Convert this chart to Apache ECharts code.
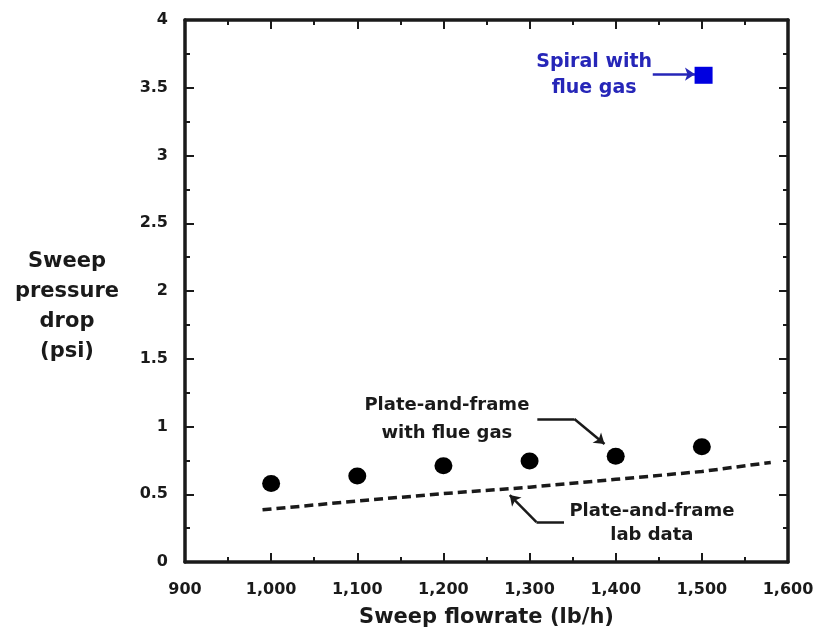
<!DOCTYPE html>
<html>
<head>
<meta charset="utf-8">
<script src="https://cdn.jsdelivr.net/npm/echarts@6/dist/echarts.min.js"></script>
<style>
  html, body { margin: 0; padding: 0; background: #fff; }
  #chart { width: 817px; height: 640px; }
</style>
</head>
<body>
<div id="chart"></div>
<script>
// 数据
var flueGasFlow = [1000, 1100, 1200, 1300, 1400, 1500];
var flueGasDrop = [0.58, 0.635, 0.71, 0.745, 0.78, 0.85];
var spiralFlow = [1502];
var spiralDrop = [3.592];
var labFlow = [990, 1100, 1200, 1300, 1400, 1500, 1580];
var labDrop = [0.385, 0.45, 0.505, 0.552, 0.61, 0.668, 0.735];
var yTicks = ['0', '0.5', '1', '1.5', '2', '2.5', '3', '3.5', '4'];

// 注释（数据坐标）
var notes = [
  { text: 'Plate-and-frame\nwith flue gas', at: [1204, 1.055], color: '#1a1a1a', size: 18, lh: 28 },
  { text: 'Plate-and-frame\nlab data', at: [1442, 0.284], color: '#1a1a1a', size: 18, lh: 24 },
  { text: 'Spiral with\nflue gas', at: [1375, 3.594], color: '#2626b8', size: 19, lh: 26 }
];
// 折线段（无箭头）
var plainSegs = [
  { coords: [[1309, 1.055], [1352, 1.055]], color: '#1a1a1a' },
  { coords: [[1340, 0.295], [1308, 0.295]], color: '#1a1a1a' }
];
// 带箭头的线段
var arrowSegs = [
  { coords: [[1352, 1.055], [1387, 0.871]], color: '#1a1a1a' },
  { coords: [[1308, 0.295], [1277, 0.494]], color: '#1a1a1a' },
  { coords: [[1443, 3.6], [1492, 3.6]], color: '#2626b8' }
];

function pairs(xs, ys) {
  return xs.map(function (x, i) { return [x, ys[i]]; });
}

var FONT = '"DejaVu Sans", "Liberation Sans", Arial, sans-serif';
var INK = '#1a1a1a';

function axis(extra) {
  var base = {
    axisLine: { show: true, onZero: false, lineStyle: { color: INK, width: 3.5 } },
    axisTick: { show: true, inside: true, length: 9, lineStyle: { color: INK, width: 2 } },
    minorTick: { show: true, splitNumber: 2, length: 5, lineStyle: { color: INK, width: 2 } },
    splitLine: { show: false }
  };
  return Object.assign(base, extra);
}

var chart = echarts.init(document.getElementById('chart'));
chart.setOption({
  animation: false,
  backgroundColor: '#fff',
  grid: { left: 185, right: 29, top: 20, bottom: 78 },
  xAxis: [
    axis({
      type: 'value', min: 900, max: 1600, interval: 100, position: 'bottom',
      name: 'Sweep flowrate (lb/h)', nameLocation: 'middle', nameGap: 45,
      nameTextStyle: { fontFamily: FONT, fontWeight: 'bold', fontSize: 21, color: INK },
      axisLabel: {
        margin: 20, fontFamily: FONT, fontWeight: 'bold', fontSize: 16, color: INK,
        formatter: function (v) { return v.toLocaleString('en-US'); }
      }
    }),
    axis({
      type: 'value', min: 900, max: 1600, interval: 100, position: 'top',
      axisLabel: { show: false }
    })
  ],
  yAxis: [
    axis({
      type: 'value', min: 0, max: 4, interval: 0.5, position: 'left',
      axisLabel: {
        margin: 17, fontFamily: FONT, fontWeight: 'bold', fontSize: 16, color: INK,
        formatter: function (v) { return yTicks[Math.round(v * 2)]; }
      }
    }),
    axis({
      type: 'value', min: 0, max: 4, interval: 0.5, position: 'right',
      axisLabel: { show: false }
    })
  ],
  graphic: [{
    type: 'text', x: 67, y: 247,
    style: {
      text: 'Sweep\npressure\ndrop\n(psi)', fill: INK, align: 'center', textAlign: 'center',
      verticalAlign: 'top', font: 'bold 21px ' + FONT, lineHeight: 30
    }
  }],
  series: [
    {
      name: 'Plate-and-frame lab data', type: 'line', data: pairs(labFlow, labDrop),
      showSymbol: false, symbol: 'none',
      lineStyle: { color: INK, width: 3.5, type: [9, 5] }
    },
    {
      name: 'Plate-and-frame with flue gas', type: 'scatter', data: pairs(flueGasFlow, flueGasDrop),
      symbol: 'circle', symbolSize: [18, 17], itemStyle: { color: '#000', opacity: 1 }
    },
    {
      name: 'Spiral with flue gas', type: 'scatter', data: pairs(spiralFlow, spiralDrop),
      symbol: 'rect', symbolSize: [18, 17], itemStyle: { color: '#0000e0', opacity: 1 }
    },
    {
      name: 'leaders', type: 'lines', coordinateSystem: 'cartesian2d',
      symbol: 'none', silent: true,
      data: plainSegs.map(function (a) {
        return { coords: a.coords, lineStyle: { color: a.color, width: 2.5, opacity: 1 } };
      })
    },
    {
      name: 'arrows', type: 'lines', coordinateSystem: 'cartesian2d',
      symbol: ['none', 'arrow'], symbolSize: 10, silent: true,
      data: arrowSegs.map(function (a) {
        return { coords: a.coords, lineStyle: { color: a.color, width: 2.5, opacity: 1 } };
      })
    },
    {
      name: 'notes', type: 'scatter', symbolSize: 0, silent: true,
      itemStyle: { opacity: 1 },
      data: notes.map(function (n) {
        return {
          value: n.at,
          label: {
            show: true, position: 'inside', formatter: n.text, color: n.color,
            fontFamily: FONT, fontWeight: 'bold', fontSize: n.size, lineHeight: n.lh, align: 'center'
          }
        };
      })
    }
  ]
});
</script>
</body>
</html>
